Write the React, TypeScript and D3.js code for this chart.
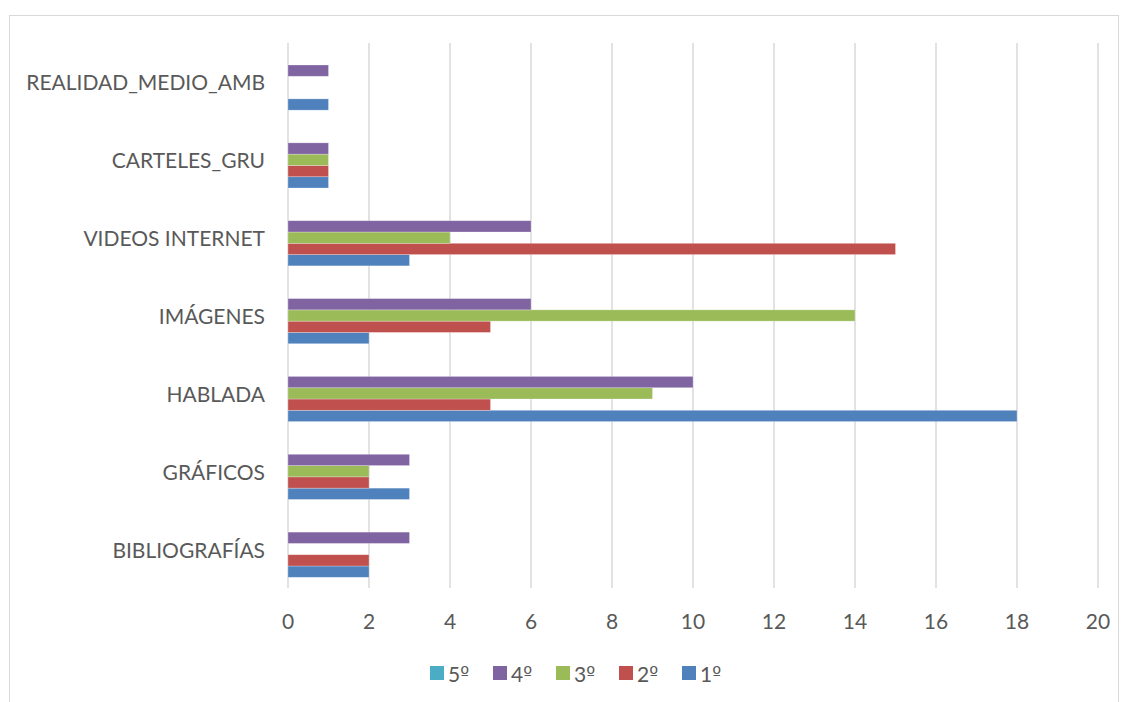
import React from "react";
import * as d3 from "d3";

const categories = ["BIBLIOGRAFÍAS", "GRÁFICOS", "HABLADA", "IMÁGENES", "VIDEOS INTERNET", "CARTELES_GRU", "REALIDAD_MEDIO_AMB"];
const seriesNames = ["1º", "2º", "3º", "4º", "5º"];
const s1 = [2, 3, 18, 2, 3, 1, 1];
const s2 = [2, 2, 5, 5, 15, 1, 0];
const s3 = [0, 2, 9, 14, 4, 1, 0];
const s4 = [3, 3, 10, 6, 6, 1, 1];
const s5 = [0, 0, 0, 0, 0, 0, 0];
const seriesValues = [s1, s2, s3, s4, s5];
const colors = ["#4F81BD", "#C0504D", "#9BBB59", "#8064A2", "#4BACC6"];
const xTicks = [0, 2, 4, 6, 8, 10, 12, 14, 16, 18, 20];
const legendOrder = ["5º", "4º", "3º", "2º", "1º"];

const W = 1126;
const H = 702;
const left = 288;
const right = 1098;
const top = 43;
const bottom = 588;
const font = "Lato, 'Open Sans', sans-serif";
const textColor = "#595959";

export default function App() {
  const x = d3.scaleLinear().domain([0, 20]).range([left, right]);
  const y = d3
    .scaleBand<string>()
    .domain([...categories].reverse())
    .range([top, bottom])
    .paddingInner(0.275)
    .paddingOuter(0.1375);
  const inner = d3
    .scaleBand<string>()
    .domain([...seriesNames].reverse())
    .range([0, y.bandwidth()]);

  return (
    <svg width={W} height={H} style={{ position: "absolute", left: 0, top: 0, background: "#fff" }}>
      <rect x={9.5} y={15.5} width={1109} height={700} fill="#fff" stroke="#d9d9d9" strokeWidth={1} />
      {xTicks.map((t) => (
        <line key={t} x1={x(t)} x2={x(t)} y1={top} y2={bottom} stroke="#d9d9d9" strokeWidth={1.5} />
      ))}
      {categories.map((c, ci) =>
        seriesNames.map((s, si) => {
          const v = seriesValues[si][ci];
          if (!v) return null;
          return (
            <rect
              key={c + s}
              x={x(0)}
              y={(y(c) as number) + (inner(s) as number)}
              width={x(v) - x(0)}
              height={inner.bandwidth()}
              fill={colors[si]}
              stroke="#ffffff"
              strokeOpacity={0.35}
              strokeWidth={0.75}
            />
          );
        })
      )}
      {categories.map((c) => (
        <text
          key={c}
          x={265}
          y={(y(c) as number) + y.bandwidth() / 2}
          textAnchor="end"
          dominantBaseline="central"
          fontFamily={font}
          fontSize={21}
          fill={textColor}
        >
          {c}
        </text>
      ))}
      {xTicks.map((t) => (
        <text
          key={t}
          x={x(t)}
          y={620}
          textAnchor="middle"
          dominantBaseline="central"
          fontFamily={font}
          fontSize={21}
          fill={textColor}
        >
          {t}
        </text>
      ))}
      {legendOrder.map((name, i) => {
        const si = seriesNames.indexOf(name);
        const lx = 430 + i * 63;
        return (
          <g key={name}>
            <rect x={lx} y={666} width={14} height={14} fill={colors[si]} />
            <text x={lx + 18} y={673} dominantBaseline="central" fontFamily={font} fontSize={21} fill={textColor}>
              {name.slice(0, 1)}
              <tspan fontFamily="'DejaVu Sans', sans-serif" fontSize={19}>
                {name.slice(1)}
              </tspan>
            </text>
          </g>
        );
      })}
    </svg>
  );
}
